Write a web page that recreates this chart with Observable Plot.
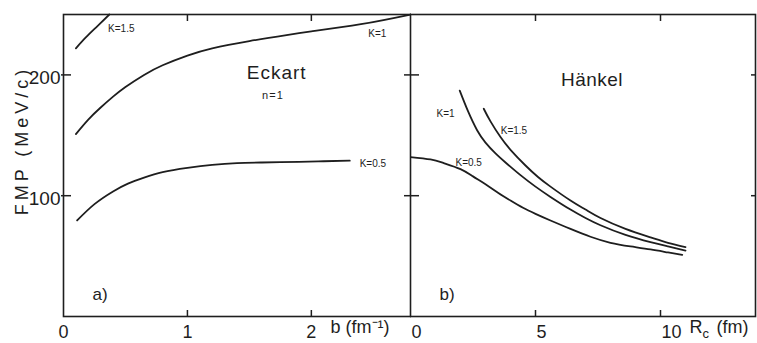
<!DOCTYPE html>
<html>
<head>
<meta charset="utf-8">
<script src="https://cdn.jsdelivr.net/npm/d3@7"></script>
<script src="https://cdn.jsdelivr.net/npm/@observablehq/plot@0.6"></script>
<style>
  html, body { margin: 0; padding: 0; background: #ffffff; }
  #wrap { display: flex; width: 757px; height: 343px; overflow: hidden; }
  #wrap svg { display: block; flex: none; }
  #wrap svg + svg { margin-left: -1px; }
</style>
</head>
<body>
<div id="wrap"></div>
<script>
// ---------- data ----------
// Panel a) Eckart, n = 1 : FMP (MeV/c) versus b (fm^-1)
const eckartK05_b = [0.11, 0.25, 0.4, 0.52, 0.65, 0.8, 1.0, 1.2, 1.4, 1.6, 1.9, 2.1, 2.31];
const eckartK05_v = [79.5, 93, 103.5, 110, 115, 119.5, 123, 125.5, 127, 127.5, 128, 128.5, 129];
const eckartK1_b = [0.1, 0.2, 0.3, 0.4, 0.5, 0.65, 0.8, 1.0, 1.2, 1.5, 1.8, 2.0, 2.4, 2.8];
const eckartK1_v = [151, 163, 173, 182, 190, 200, 208, 216, 222, 228, 233, 236, 242, 250];
const eckartK15_b = [0.1, 0.18, 0.27, 0.37];
const eckartK15_v = [222, 231, 240, 250];

// Panel b) Hänkel : FMP (MeV/c) versus R_c (fm)
const hankelK05_r = [0, 0.8, 1.33, 2.0, 2.5, 3.0, 3.5, 4.0, 4.5, 5.0, 5.6, 6.4, 7.2, 8.0, 8.8, 9.6, 10.3, 10.87];
const hankelK05_v = [132, 130, 127, 122, 116, 109.5, 102.5, 96, 90, 85, 79.5, 72.5, 66, 61, 58, 55.5, 53, 51];
const hankelK1_r = [1.97, 2.3, 2.67, 3.0, 3.4, 3.8, 4.4, 5.0, 5.6, 6.4, 7.0, 7.6, 8.6, 9.6, 10.3, 11.0];
const hankelK1_v = [187, 170, 154, 144, 135, 127.5, 117, 107.5, 99, 88.5, 81.5, 75.5, 67.5, 61.5, 58, 54.6];
const hankelK15_r = [2.93, 3.2, 3.6, 4.0, 4.6, 5.1, 5.6, 6.4, 7.0, 7.6, 8.6, 9.6, 10.3, 11.0];
const hankelK15_v = [172, 161.5, 148.5, 138, 125, 115.5, 107.5, 96, 88.5, 81.5, 72.5, 65.5, 61, 57.5];

// ticks and texts
const yTicks = [100, 200];
const yTickLabels = [100, 200];
const bTicks = [1, 2];
const bTickLabels = [0, 1, 2];
const rTicks = [5, 10];
const rTickLabels = [0, 5, 10];
const yTitle = "FMP (MeV/c)";
const bTitle = "b (fm\u207B\u00B9)";
const rTitleMain = "R";
const rTitleSub = "c";
const rTitleUnit = "(fm)";
const seriesLabels = ["K=0.5", "K=1", "K=1.5"];
const panelTitles = ["Eckart", "H\u00E4nkel"];
const panelNote = "n=1";
const panelTags = ["a)", "b)"];

// ---------- helpers ----------
const ink = "#1e1e1e";
const font = "'Liberation Sans', Arial, sans-serif";
const pairs = (xs, ys, k) => xs.map((x, i) => ({x, v: ys[i], k}));
const fmt = d => String(d);

const eckart = [
  ...pairs(eckartK05_b, eckartK05_v, "0.5"),
  ...pairs(eckartK1_b, eckartK1_v, "1"),
  ...pairs(eckartK15_b, eckartK15_v, "1.5")
];
const hankel = [
  ...pairs(hankelK05_r, hankelK05_v, "0.5"),
  ...pairs(hankelK1_r, hankelK1_v, "1"),
  ...pairs(hankelK15_r, hankelK15_v, "1.5")
];

const common = {
  height: 343,
  marginTop: 14,
  marginBottom: 27,
  y: {domain: [0, 250]},
  style: {fontFamily: font, color: ink, background: "transparent"}
};

// ---------- left panel ----------
const left = Plot.plot({
  ...common,
  width: 411,
  marginLeft: 63,
  marginRight: 1,
  x: {domain: [0, 2.8]},
  marks: [
    Plot.frame({stroke: ink, strokeWidth: 1.6}),
    Plot.axisY({ticks: yTicks, anchor: "left", tickSize: 10, dx: 8, fill: "none", stroke: ink, strokeWidth: 1.5}),
    Plot.axisY({ticks: yTickLabels, tickFormat: fmt, anchor: "left", tickSize: 0, tickPadding: 3, dy: 3, fontSize: 19, fill: ink, label: null}),
    Plot.axisY({ticks: yTicks, anchor: "right", tickSize: 7, dx: -7, fill: "none", stroke: ink, strokeWidth: 1.5}),
    Plot.axisX({ticks: bTicks, anchor: "top", tickSize: 6, dy: 6, fill: "none", stroke: ink, strokeWidth: 1.5}),
    Plot.axisX({ticks: bTicks, anchor: "bottom", tickSize: 6, dy: -6, fill: "none", stroke: ink, strokeWidth: 1.5}),
    Plot.axisX({ticks: bTickLabels, tickFormat: fmt, anchor: "bottom", tickSize: 0, tickPadding: 9, fontSize: 18, fill: ink, label: null}),
    Plot.line(eckart, {x: "x", y: "v", z: "k", curve: "natural", stroke: ink, strokeWidth: 1.8}),
    Plot.text([seriesLabels[2]], {x: () => 0.36, y: () => 238.5, text: d => d, textAnchor: "start", fontSize: 10, fill: ink}),
    Plot.text([seriesLabels[1]], {x: () => 2.46, y: () => 234, text: d => d, textAnchor: "start", fontSize: 10, fill: ink}),
    Plot.text([seriesLabels[0]], {x: () => 2.39, y: () => 126.5, text: d => d, textAnchor: "start", fontSize: 10, fill: ink}),
    Plot.text([panelTitles[0]], {x: () => 1.72, y: () => 202, text: d => d, fontSize: 19, fill: ink}),
    Plot.text([panelNote], {x: () => 1.69, y: () => 183, text: d => d, fontSize: 11, fill: ink}),
    Plot.text([panelTags[0]], {x: () => 0.235, y: () => 18, text: d => d, textAnchor: "start", fontSize: 17, fill: ink}),
    Plot.text([bTitle], {frameAnchor: "bottom-right", dx: -80, dy: 16, text: d => d, textAnchor: "start", fontSize: 18, fill: ink}),
    Plot.text([yTitle], {frameAnchor: "left", dx: -41, dy: -25, rotate: -90, text: d => d, textAnchor: "middle", fontSize: 18, fill: ink})
  ]
});

// ---------- right panel ----------
const right = Plot.plot({
  ...common,
  width: 347,
  marginLeft: 0,
  marginRight: 2,
  x: {domain: [0, 13.8]},
  marks: [
    Plot.frame({stroke: ink, strokeWidth: 1.6}),
    Plot.axisY({ticks: yTicks, anchor: "left", tickSize: 9, dx: 9, fill: "none", stroke: ink, strokeWidth: 1.5}),
    Plot.axisY({ticks: yTicks, anchor: "right", tickSize: 5, dx: -5, fill: "none", stroke: ink, strokeWidth: 1.5}),
    Plot.axisX({ticks: rTicks, anchor: "top", tickSize: 6, dy: 6, fill: "none", stroke: ink, strokeWidth: 1.5}),
    Plot.axisX({ticks: rTicks, anchor: "bottom", tickSize: 6, dy: -6, fill: "none", stroke: ink, strokeWidth: 1.5}),
    Plot.axisX({ticks: rTickLabels, tickFormat: fmt, anchor: "bottom", tickSize: 0, tickPadding: 9, dx: 1, textAnchor: "start", fontSize: 18, fill: ink, label: null}),
    Plot.line(hankel, {x: "x", y: "v", z: "k", curve: "natural", stroke: ink, strokeWidth: 1.8}),
    Plot.text([seriesLabels[1]], {x: () => 1.04, y: () => 168, text: d => d, textAnchor: "start", fontSize: 10, fill: ink}),
    Plot.text([seriesLabels[2]], {x: () => 3.61, y: () => 154, text: d => d, textAnchor: "start", fontSize: 10, fill: ink}),
    Plot.text([seriesLabels[0]], {x: () => 1.8, y: () => 127.5, text: d => d, textAnchor: "start", fontSize: 10, fill: ink}),
    Plot.text([panelTitles[1]], {x: () => 7.26, y: () => 196, text: d => d, fontSize: 19, fill: ink}),
    Plot.text([panelTags[1]], {x: () => 1.16, y: () => 18, text: d => d, textAnchor: "start", fontSize: 17, fill: ink}),
    Plot.text([rTitleMain], {frameAnchor: "bottom-right", dx: -66, dy: 16, text: d => d, textAnchor: "start", fontSize: 18, fill: ink}),
    Plot.text([rTitleSub], {frameAnchor: "bottom-right", dx: -53, dy: 21, text: d => d, textAnchor: "start", fontSize: 13, fill: ink}),
    Plot.text([rTitleUnit], {frameAnchor: "bottom-right", dx: -39, dy: 16, text: d => d, textAnchor: "start", fontSize: 18, fill: ink})
  ]
});

const wrap = document.getElementById("wrap");
wrap.appendChild(left);
wrap.appendChild(right);

// letter spacing for the lettered captions, as in the original
d3.select(left).selectAll("text").filter(function () { return this.textContent === yTitle; }).style("letter-spacing", "4px");
d3.select(left).selectAll("text").filter(function () { return this.textContent === panelTitles[0] || this.textContent === panelNote; }).style("letter-spacing", "1px");
d3.select(right).selectAll("text").filter(function () { return this.textContent === panelTitles[1]; }).style("letter-spacing", "0.5px");
</script>
</body>
</html>
